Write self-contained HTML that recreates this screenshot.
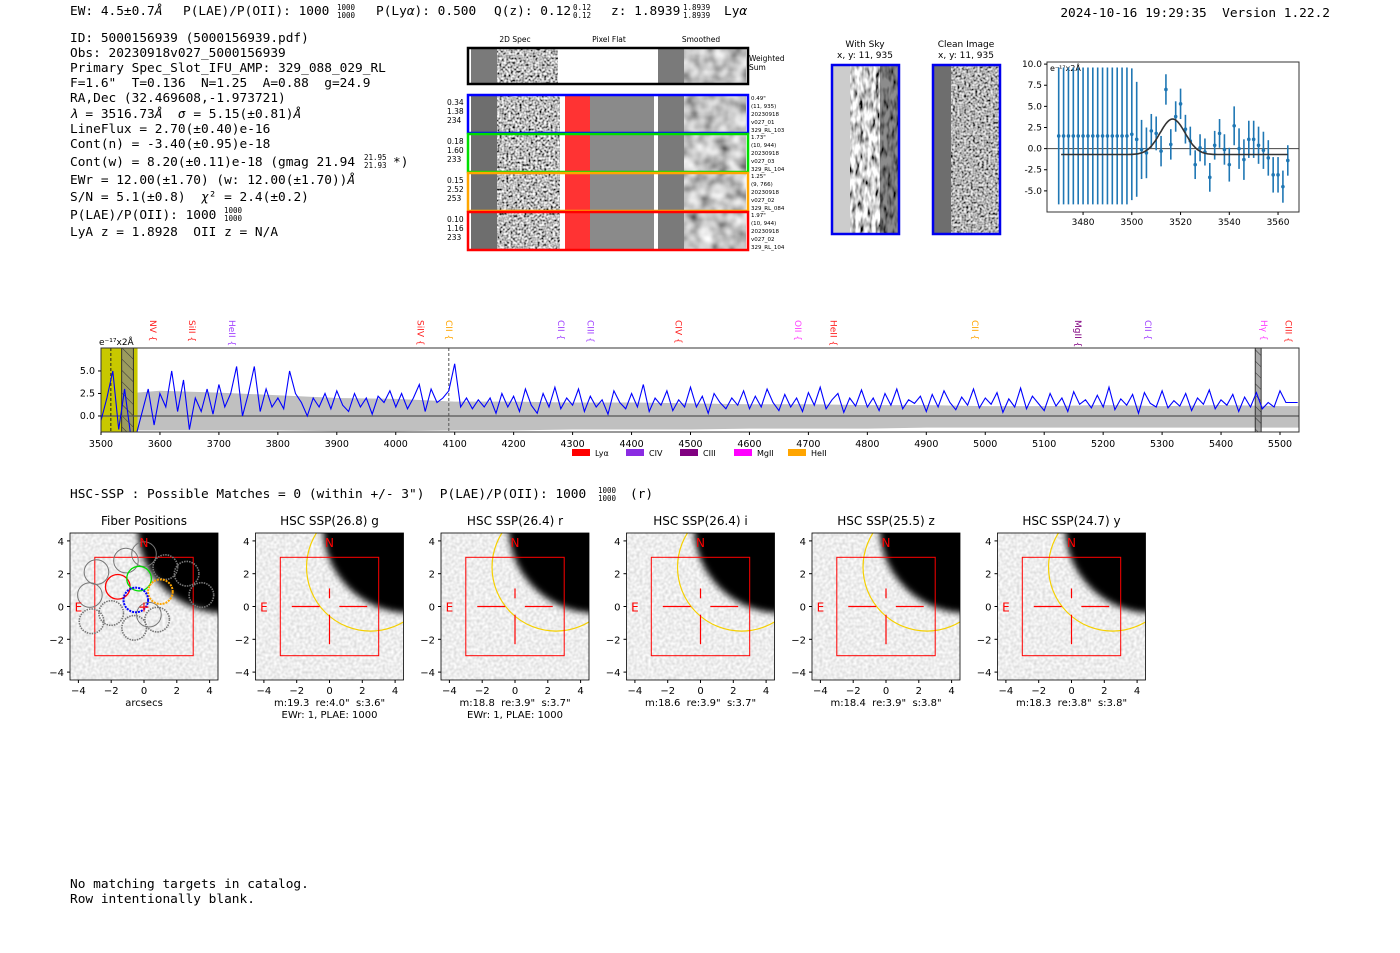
<!DOCTYPE html>
<html><head><meta charset="utf-8">
<style>
html,body{margin:0;padding:0;background:#fff;}
svg{display:block;}
text{white-space:pre;}
.mono{font-family:"DejaVu Sans Mono","Liberation Mono",monospace;font-size:12.8px;fill:#000;}
.sans{font-family:"DejaVu Sans","Liberation Sans",sans-serif;fill:#000;}
.frac{font-family:"DejaVu Sans Mono","Liberation Mono",monospace;font-size:7.5px;fill:#000;}
</style></head>
<body>
<svg id="root" width="1400" height="953" viewBox="0 0 1400 953" xmlns="http://www.w3.org/2000/svg" xml:space="preserve">
<defs>
<filter id="nzHi" x="0" y="0" width="100%" height="100%"><feTurbulence type="fractalNoise" baseFrequency="0.45" numOctaves="1" seed="4"/><feColorMatrix type="matrix" values="2.2 0 0 0 -0.6  2.2 0 0 0 -0.6  2.2 0 0 0 -0.6  0 0 0 0 1"/></filter>
<filter id="nzSm" x="0" y="0" width="100%" height="100%"><feTurbulence type="fractalNoise" baseFrequency="0.07" numOctaves="2" seed="7"/><feColorMatrix type="matrix" values="1.3 0 0 0 -0.1  1.3 0 0 0 -0.1  1.3 0 0 0 -0.1  0 0 0 0 1"/></filter>
<filter id="nzSky" x="0" y="0" width="100%" height="100%"><feTurbulence type="fractalNoise" baseFrequency="0.25 0.09" numOctaves="2" seed="2"/><feColorMatrix type="matrix" values="2.4 0 0 0 -0.55  2.4 0 0 0 -0.55  2.4 0 0 0 -0.55  0 0 0 0 1"/></filter>
<filter id="nzImg" x="0" y="0" width="100%" height="100%"><feTurbulence type="fractalNoise" baseFrequency="0.35" numOctaves="1" seed="9"/><feColorMatrix type="matrix" values="0.5 0 0 0 0.6  0.5 0 0 0 0.6  0.5 0 0 0 0.6  0 0 0 0 1"/></filter>
<filter id="blur6"><feGaussianBlur stdDeviation="3.5"/></filter>
<pattern id="hatch" width="8" height="8" patternUnits="userSpaceOnUse" patternTransform="rotate(-45)"><rect width="8" height="8" fill="#888" opacity="0.7"/><line x1="0" y1="0" x2="0" y2="8" stroke="#333" stroke-width="1"/></pattern>
</defs>

<g>
<text class="mono" x="70" y="15">EW: 4.5±0.7<tspan font-style="italic">Å</tspan></text>
<text class="mono" x="183" y="15">P(LAE)/P(OII): 1000</text>
<text class="frac" x="337" y="10">1000</text><text class="frac" x="337" y="18">1000</text>
<text class="mono" x="376" y="15">P(Ly<tspan font-style="italic">α</tspan>): 0.500</text>
<text class="mono" x="494" y="15">Q(z): 0.12</text>
<text class="frac" x="573" y="10">0.12</text><text class="frac" x="573" y="18">0.12</text>
<text class="mono" x="611" y="15">z: 1.8939</text>
<text class="frac" x="683" y="10">1.8939</text><text class="frac" x="683" y="18">1.8939</text>
<text class="mono" x="724" y="15">Ly<tspan font-style="italic">α</tspan></text>
</g>
<text class="mono" x="1330" y="17" text-anchor="end">2024-10-16 19:29:35  Version 1.22.2</text>

<g>
<text class="mono" x="70" y="42">ID: 5000156939 (5000156939.pdf)</text>
<text class="mono" x="70" y="57">Obs: 20230918v027_5000156939</text>
<text class="mono" x="70" y="72">Primary Spec_Slot_IFU_AMP: 329_088_029_RL</text>
<text class="mono" x="70" y="87">F=1.6"  T=0.136  N=1.25  A=0.88  g=24.9</text>
<text class="mono" x="70" y="102">RA,Dec (32.469608,-1.973721)</text>
<text class="mono" x="70" y="118"><tspan font-style="italic">λ</tspan> = 3516.73<tspan font-style="italic">Å</tspan>  <tspan font-style="italic">σ</tspan> = 5.15(±0.81)<tspan font-style="italic">Å</tspan></text>
<text class="mono" x="70" y="133">LineFlux = 2.70(±0.40)e-16</text>
<text class="mono" x="70" y="148">Cont(n) = -3.40(±0.95)e-18</text>
<text class="mono" x="70" y="166">Cont(w) = 8.20(±0.11)e-18 (gmag 21.94</text>
<text class="frac" x="364" y="160">21.95</text><text class="frac" x="364" y="168">21.93</text>
<text class="mono" x="393" y="166">*)</text>
<text class="mono" x="70" y="184">EWr = 12.00(±1.70) (w: 12.00(±1.70))<tspan font-style="italic">Å</tspan></text>
<text class="mono" x="70" y="201">S/N = 5.1(±0.8)  <tspan font-style="italic">χ</tspan>² = 2.4(±0.2)</text>
<text class="mono" x="70" y="219">P(LAE)/P(OII): 1000</text>
<text class="frac" x="224" y="213">1000</text><text class="frac" x="224" y="221">1000</text>
<text class="mono" x="70" y="236">LyA z = 1.8928  OII z = N/A</text>
</g>

<g id="spec2d" font-family="DejaVu Sans, Liberation Sans, sans-serif">
<text x="515" y="42" font-size="7.5" text-anchor="middle">2D Spec</text>
<text x="609" y="42" font-size="7.5" text-anchor="middle">Pixel Flat</text>
<text x="701" y="42" font-size="7.5" text-anchor="middle">Smoothed</text>
<text x="749" y="61" font-size="7.5">Weighted</text><text x="749" y="70" font-size="7.5">Sum</text>
</g>

<g>
<text class="sans" x="865" y="47" font-size="9" text-anchor="middle">With Sky</text>
<text class="sans" x="865" y="58" font-size="9" text-anchor="middle">x, y: 11, 935</text>
<rect x="832" y="65" width="67" height="169" fill="#ccc"/>
<rect x="850" y="65" width="49" height="169" filter="url(#nzSky)"/>
<rect x="880" y="65" width="19" height="169" fill="#000" opacity="0.45"/>
<rect x="832" y="65" width="67" height="169" fill="none" stroke="#0000ee" stroke-width="2.5"/>
</g>
<g>
<text class="sans" x="966" y="47" font-size="9" text-anchor="middle">Clean Image</text>
<text class="sans" x="966" y="58" font-size="9" text-anchor="middle">x, y: 11, 935</text>
<rect x="933" y="65" width="67" height="169" fill="#6e6e6e"/>
<rect x="951" y="65" width="49" height="169" filter="url(#nzHi)" opacity="0.9"/>
<rect x="933" y="65" width="67" height="169" fill="none" stroke="#0000ee" stroke-width="2.5"/>
</g>

<g id="zoomplot"></g>
<g id="spectrum"></g>

<text class="mono" x="70" y="498">HSC-SSP : Possible Matches = 0 (within +/- 3")  P(LAE)/P(OII): 1000</text>
<text class="frac" x="598" y="493">1000</text><text class="frac" x="598" y="501">1000</text>
<text class="mono" x="630" y="498">(r)</text>

<g id="panels"></g>

<text class="mono" x="70" y="888">No matching targets in catalog.</text>
<text class="mono" x="70" y="903">Row intentionally blank.</text>
</svg>

<script>
const fitWave = [3470,3472,3474,3476,3478,3480,3482,3484,3486,3488,3490,3492,3494,3496,3498,3500,3502,3504,3506,3508,3510,3512,3514,3516,3518,3520,3522,3524,3526,3528,3530,3532,3534,3536,3538,3540,3542,3544,3546,3548,3550,3552,3554,3556,3558,3560,3562,3564];
const fitFlux = [1.5,1.5,1.5,1.5,1.5,1.5,1.5,1.5,1.5,1.5,1.5,1.5,1.5,1.5,1.5,1.7,1.1,-0.1,-0.5,2.1,1.8,-0.3,7.0,0.5,3.8,5.3,2.3,0.9,-1.9,0.1,-0.4,-3.4,0.4,1.8,-0.1,-1.9,2.7,0.0,-1.3,1.1,1.1,0.4,-0.2,-1.1,-3.1,-3.1,-4.5,-1.4];
const fitErr = [8.1,8.1,8.1,8.1,8.1,8.1,8.1,8.1,8.1,8.1,8.1,8.1,8.1,8.1,8.1,7.8,6.8,3.5,3.0,2.0,2.0,1.8,1.8,1.8,1.8,1.8,1.7,1.7,1.7,1.6,1.6,1.7,1.7,1.7,1.8,2.0,2.3,2.4,2.4,2.2,2.2,2.2,2.2,2.1,2.1,2.1,1.9,1.8];
const fitParams = [3516.73, 5.15, 4.2, -0.7];
const fitXTicks = [3480,3500,3520,3540,3560];
const fitYTicks = [-5.0,-2.5,0.0,2.5,5.0,7.5,10.0];

const specStart = 3500, specStep = 10;
const specFlux = [
-0.5,2.0,5.0,-1.5,3.0,-2.0,-2.0,0.5,3.0,-1.0,
2.5,1.0,5.0,0.5,4.0,-1.5,2.0,0.5,3.0,0.2,
3.5,1.0,2.5,5.5,0.0,2.5,5.5,0.5,3.0,1.0,
2.0,0.8,5.0,2.5,1.5,0.0,2.0,1.0,2.5,0.8,
2.8,1.2,0.5,2.5,1.0,2.0,0.2,2.2,1.5,2.8,
1.0,2.5,0.8,2.0,3.5,0.5,3.0,1.5,2.0,2.8,
5.8,1.0,2.0,0.8,1.8,1.0,2.0,0.3,2.5,1.0,
2.2,0.5,3.0,1.2,0.3,2.5,1.0,3.2,0.8,2.0,
1.2,3.0,0.5,2.2,1.0,1.8,0.2,2.8,1.5,0.8,
2.5,1.0,3.5,0.5,2.0,1.2,2.8,0.6,1.8,1.0,
3.2,1.0,2.2,0.3,2.5,1.5,0.8,2.0,1.2,2.8,
0.8,2.2,1.0,3.0,1.5,0.6,2.4,1.0,2.0,0.5,
2.6,1.2,3.2,0.8,1.8,2.5,0.4,2.0,1.1,2.9,
1.0,2.0,0.6,2.5,1.2,3.0,0.8,1.8,1.4,2.2,
0.5,2.4,1.0,2.8,1.5,0.7,2.1,1.2,3.0,0.9,
2.0,1.3,2.6,0.4,1.9,1.0,3.1,0.8,2.2,1.4,
0.6,2.5,1.1,2.0,0.5,2.7,1.3,1.8,0.9,2.3,
1.0,3.2,0.7,1.9,1.2,2.4,0.3,2.6,1.4,1.0,
2.8,0.9,1.7,1.1,2.5,0.6,2.0,1.3,2.9,0.8,
1.8,1.2,2.4,0.5,2.1,1.0,2.6,0.8,1.5,1.0,
2.8,1.5,1.5,1.5];
const bandWave = [3560,3600,3700,3800,3900,4000,4100,4200,4300,4400,4500,4600,4700,4800,4900,5000,5100,5200,5300,5400,5500];
const bandHi = [2.6,2.8,2.6,2.3,2.0,1.9,1.6,1.6,1.5,1.5,1.4,1.3,1.3,1.2,1.2,1.1,1.1,1.2,1.1,1.2,1.1];
const bandLo = [-1.6,-1.6,-1.6,-1.6,-1.7,-1.7,-1.6,-1.6,-1.5,-1.5,-1.5,-1.4,-1.4,-1.4,-1.3,-1.3,-1.3,-1.3,-1.3,-1.3,-1.3];
const specXTicks = [3500,3600,3700,3800,3900,4000,4100,4200,4300,4400,4500,4600,4700,4800,4900,5000,5100,5200,5300,5400,5500];
const specYTicks = [0.0,2.5,5.0];
const lineNames = ["NV","SiII","HeII","SiIV","CII","CII","CIII","CIV","OII","HeII","CII","MgII","CII","Hγ","CIII"];
const lineWaves = [3588,3654,3722,4042,4090,4280,4330,4480,4682,4743,4983,5157,5276,5473,5514];
const lineColors = ["#ff2020","#ff2020","#a040ff","#ff2020","#ffa500","#a040ff","#a040ff","#ff2020","#ff40ff","#ff2020","#ffa500","#800080","#a040ff","#ff40ff","#ff2020"];
const legendNames = ["Lyα","CIV","CIII","MgII","HeII"];
const legendColors = ["#ff0000","#8a2be2","#800080","#ff00ff","#ffa500"];

const panelTitles = ["Fiber Positions","HSC SSP(26.8) g","HSC SSP(26.4) r","HSC SSP(26.4) i","HSC SSP(25.5) z","HSC SSP(24.7) y"];
const panelCap1 = ["arcsecs",'m:19.3  re:4.0"  s:3.6"','m:18.8  re:3.9"  s:3.7"','m:18.6  re:3.9"  s:3.7"','m:18.4  re:3.9"  s:3.8"','m:18.3  re:3.8"  s:3.8"'];
const panelCap2 = ["","EWr: 1, PLAE: 1000","EWr: 1, PLAE: 1000","","",""];
const fiberX = [-2.9,-1.1,0.0,1.3,2.6,3.5,-3.3,-2.0,-3.2,0.3,-0.6,0.8];
const fiberY = [2.1,2.8,3.2,2.4,2.0,0.7,0.7,-0.4,-0.9,-0.5,-1.3,-0.8];
const fiberDash = [0,0,0,1,1,1,0,1,1,0,1,1];
const selX = [-1.6,-0.3,1.0,-0.5];
const selY = [1.2,1.7,0.9,0.4];
const selColor = ["#ff0000","#00dd00","#ffa500","#0000ff"];
const spec2dRows = ["0.34|1.38|234","0.18|1.60|233","0.15|2.52|253","0.10|1.16|233"];
const spec2dInfo = [["0.49\"","(11, 935)","20230918","v027_01","329_RL_103"],["1.73\"","(10, 944)","20230918","v027_03","329_RL_104"],["1.25\"","(9, 766)","20230918","v027_02","329_RL_084"],["1.97\"","(10, 944)","20230918","v027_02","329_RL_104"]];
const spec2dColors = ["#0000ff","#00dd00","#ffa500","#ff0000"];

const NS = "http://www.w3.org/2000/svg";
function mk(tag, attrs, parent){const e=document.createElementNS(NS,tag);for(const k in attrs)e.setAttribute(k,attrs[k]);parent.appendChild(e);return e;}
function txt(s, attrs, parent){const e=mk("text",attrs,parent);e.textContent=s;return e;}
const SANS = "DejaVu Sans, Liberation Sans, sans-serif";

(function(){
 const g=document.getElementById("spec2d");
 const ws=mk("g",{},g);
 
 
 mk("rect",{x:468,y:48,width:280,height:36,fill:"#fff"},ws);
 mk("rect",{x:471,y:48,width:26,height:36,fill:"#7a7a7a"},ws);
 mk("rect",{x:497,y:48,width:61,height:36,filter:"url(#nzHi)"},ws);
 mk("rect",{x:658,y:48,width:26,height:36,fill:"#7a7a7a"},ws);
 mk("rect",{x:684,y:48,width:62,height:36,filter:"url(#nzSm)"},ws);
 mk("rect",{x:468,y:48,width:280,height:36,fill:"none",stroke:"#000","stroke-width":2.5},ws);
 const ys=[95,134,173,212], h=38;
 for(let i=0;i<4;i++){
  const y=ys[i];
  const r=mk("g",{},g);
  
  
  mk("rect",{x:468,y:y,width:280,height:h,fill:"#fff"},r);
  mk("rect",{x:471,y:y,width:26,height:h,fill:"#6e6e6e"},r);
  mk("rect",{x:497,y:y,width:63,height:h,filter:"url(#nzHi)"},r);
  mk("rect",{x:565,y:y,width:25,height:h,fill:"#ff3333"},r);
  mk("rect",{x:590,y:y,width:64,height:h,fill:"#8a8a8a"},r);
  mk("rect",{x:658,y:y,width:26,height:h,fill:"#7a7a7a"},r);
  mk("rect",{x:684,y:y,width:62,height:h,filter:"url(#nzSm)"},r);
  mk("rect",{x:468,y:y,width:280,height:h,fill:"none",stroke:spec2dColors[i],"stroke-width":2.5},r);
  const v=spec2dRows[i].split("|");
  for(let k=0;k<3;k++) txt(v[k],{x:447,y:y+10+k*9,"font-size":7.5,"font-family":SANS},r);
  for(let k=0;k<5;k++) txt(spec2dInfo[i][k],{x:751,y:y+5+k*8,"font-size":5.5,"font-family":SANS},r);
 }
})();

(function(){
 const g=document.getElementById("zoomplot");
 const L=1047,R=1299,T=62,B=212, x0=3465.2,x1=3568.6, y0=-7.5,y1=10.25;
 const X=v=>L+(v-x0)/(x1-x0)*(R-L), Y=v=>B-(v-y0)/(y1-y0)*(B-T);
 mk("rect",{x:L,y:T,width:R-L,height:B-T,fill:"#fff",stroke:"#333","stroke-width":1},g);
 const zl=mk("line",{x1:L,x2:R,y1:Y(0),y2:Y(0),stroke:"#444","stroke-width":1},g);
 
 
 for(const t of fitXTicks){mk("line",{x1:X(t),x2:X(t),y1:B,y2:B+3,stroke:"#000"},g);txt(String(t),{x:X(t),y:B+13,"font-size":9,"text-anchor":"middle","font-family":SANS},g);}
 for(const t of fitYTicks){mk("line",{x1:L-3,x2:L,y1:Y(t),y2:Y(t),stroke:"#000"},g);txt(t.toFixed(1),{x:L-5,y:Y(t)+3,"font-size":9,"text-anchor":"end","font-family":SANS},g);}
 txt("e⁻¹⁷x2Å",{x:L+3,y:T+9,"font-size":8,"font-family":SANS},g);
 for(let i=0;i<fitWave.length;i++){
  const x=X(fitWave[i]);
  const eb=mk("line",{x1:x,x2:x,y1:Y(Math.min(fitFlux[i]+fitErr[i],y1-0.1)),y2:Y(fitFlux[i]-fitErr[i]),stroke:"#1f77b4","stroke-width":1.6},g);
  
  
  const p=mk("circle",{cx:x,cy:Y(fitFlux[i]),r:1.8,fill:"#1f77b4"},g);
  
  
 }
 let d="";
 for(let w=3471;w<=3564;w+=0.5){const f=fitParams[3]+fitParams[2]*Math.exp(-0.5*Math.pow((w-fitParams[0])/fitParams[1],2));d+=(d?"L":"M")+X(w).toFixed(1)+","+Y(f).toFixed(1);}
 const fl=mk("path",{d:d,fill:"none",stroke:"#333","stroke-width":1.6},g);
 
 
})();

(function(){
 const g=document.getElementById("spectrum");
 const L=101,R=1299,T=348,B=432, y0=-1.78,y1=7.55;
 const X=v=>L+(v-3500)/(5500-3500)*(1280-101), Y=v=>B-(v-y0)/(y1-y0)*(B-T);
 mk("rect",{x:L,y:T,width:R-L,height:B-T,fill:"#fff"},g);
 const clip=mk("clipPath",{id:"specClip"},g); mk("rect",{x:L,y:T,width:R-L,height:B-T},clip);
 const inner=mk("g",{"clip-path":"url(#specClip)"},g);
 let d="M"+X(bandWave[0])+","+Y(bandHi[0]);
 for(let i=1;i<bandWave.length;i++) d+="L"+X(bandWave[i])+","+Y(bandHi[i]);
 d+="L"+X(5532)+","+Y(bandHi[bandHi.length-1]);
 d+="L"+X(5532)+","+Y(bandLo[bandLo.length-1]);
 for(let i=bandWave.length-1;i>=0;i--) d+="L"+X(bandWave[i])+","+Y(bandLo[i]);
 const band=mk("path",{d:d+"Z",fill:"#c0c0c0"},inner);
 
 
 const yz=mk("rect",{x:X(3500),y:T,width:X(3562)-X(3500),height:B-T,fill:"#c8c800"},inner);
 
 
 mk("rect",{x:X(3535),y:T,width:X(3555)-X(3535),height:B-T,fill:"url(#hatch)",stroke:"#333"},inner);
 const sky=mk("rect",{x:X(5458),y:T,width:X(5468)-X(5458),height:B-T,fill:"url(#hatch)",stroke:"#333"},inner);
 
 
 mk("line",{x1:L,x2:R,y1:Y(0),y2:Y(0),stroke:"#555","stroke-width":1.2},inner);
 mk("line",{x1:X(3516.7),x2:X(3516.7),y1:T,y2:B,stroke:"#222","stroke-dasharray":"3,2"},inner);
 mk("line",{x1:X(4090),x2:X(4090),y1:T,y2:B,stroke:"#555","stroke-dasharray":"3,2"},inner);
 let p="";
 for(let i=0;i<specFlux.length;i++){p+=(p?"L":"M")+X(specStart+i*specStep).toFixed(1)+","+Y(specFlux[i]).toFixed(1);}
 const sl=mk("path",{d:p,fill:"none",stroke:"#0000ff","stroke-width":1.1},inner);
 
 
 mk("rect",{x:L,y:T,width:R-L,height:B-T,fill:"none",stroke:"#333"},g);
 for(const t of specXTicks){mk("line",{x1:X(t),x2:X(t),y1:B,y2:B+3,stroke:"#000"},g);txt(String(t),{x:X(t),y:B+15,"font-size":9.5,"text-anchor":"middle","font-family":SANS},g);}
 for(const t of specYTicks){mk("line",{x1:L-3,x2:L,y1:Y(t),y2:Y(t),stroke:"#000"},g);txt(t.toFixed(1),{x:L-6,y:Y(t)+3,"font-size":9.5,"text-anchor":"end","font-family":SANS},g);}
 txt("e⁻¹⁷x2Å",{x:L-2,y:T-3,"font-size":9,"font-family":SANS},g);
 for(let i=0;i<lineNames.length;i++){
  const x=X(lineWaves[i]);
  const lt=txt(lineNames[i]+" {",{x:0,y:0,"font-size":9,fill:lineColors[i],"font-family":SANS,transform:"translate("+(x-3)+",320) rotate(90)"},g);
  
  
 }
 let lx=572;
 for(let i=0;i<legendNames.length;i++){
  const e=mk("g",{},g);
  
  
  mk("rect",{x:lx,y:449,width:18,height:7,fill:legendColors[i]},e);
  txt(legendNames[i],{x:lx+23,y:456,"font-size":8,"font-family":SANS},e);
  lx+=54;
 }
})();

(function(){
 const g=document.getElementById("panels");
 for(let i=0;i<6;i++){
  const L=70+i*185.5, W=148, T=533, H=147, S=16.4;
  const cx=L+74, cy=T+73.5;
  const X=v=>cx+v*S, Y=v=>cy-v*S;
  const p=mk("g",{},g);
  
  
  const cid="pc"+i; const cp=mk("clipPath",{id:cid},p); mk("rect",{x:L,y:T,width:W,height:H},cp);
  const im=mk("g",{"clip-path":"url(#"+cid+")"},p);
  mk("rect",{x:L,y:T,width:W,height:H,filter:"url(#nzImg)"},im);
  mk("circle",{cx:X(4.9),cy:Y(4.9),r:5.3*S,fill:"#000",filter:"url(#blur6)"},im);
  if(i>0){mk("circle",{cx:X(2.5),cy:Y(2.4),r:3.9*S,fill:"none",stroke:"#f5d000","stroke-width":1.2},im);}
  mk("rect",{x:X(-3),y:Y(3),width:6*S,height:6*S,fill:"none",stroke:"#ff0000","stroke-width":1},im);
  if(i>0){
   mk("line",{x1:X(-2.3),x2:X(-0.6),y1:Y(0),y2:Y(0),stroke:"#f00","stroke-width":1.2},im);
   mk("line",{x1:X(0.6),x2:X(2.3),y1:Y(0),y2:Y(0),stroke:"#f00","stroke-width":1.2},im);
   mk("line",{x1:X(0),x2:X(0),y1:Y(1.1),y2:Y(0.5),stroke:"#f00","stroke-width":1.2},im);
   mk("line",{x1:X(0),x2:X(0),y1:Y(-0.5),y2:Y(-2.3),stroke:"#f00","stroke-width":1.2},im);
  } else {
   for(let k=0;k<fiberX.length;k++){
    const c=mk("circle",{cx:X(fiberX[k]),cy:Y(fiberY[k]),r:0.75*S,fill:"none",stroke:"#777","stroke-width":fiberDash[k]?1.6:1,"stroke-dasharray":fiberDash[k]?"1.5,1":"none"},im);
    
    
   }
   for(let k=0;k<selX.length;k++){
    const c=mk("circle",{cx:X(selX[k]),cy:Y(selY[k]),r:0.75*S,fill:"none",stroke:selColor[k],"stroke-width":k>=2?2:1.3,"stroke-dasharray":k>=2?"2,1":"none"},im);
    
    
   }
   txt("+",{x:X(0),y:Y(0)+5,"font-size":14,fill:"#f00","text-anchor":"middle","font-family":SANS},im);
  }
  txt("N",{x:X(0),y:Y(4)+6,"font-size":12,fill:"#f00","text-anchor":"middle","font-family":SANS},im);
  txt("E",{x:X(-4),y:Y(0)+5,"font-size":12,fill:"#f00","text-anchor":"middle","font-family":SANS},im);
  mk("rect",{x:L,y:T,width:W,height:H,fill:"none",stroke:"#000","stroke-width":0.8},p);
  const tt=txt(panelTitles[i],{x:cx,y:T-8,"font-size":12,"text-anchor":"middle","font-family":SANS},p);
  
  
  for(const t of [-4,-2,0,2,4]){
   mk("line",{x1:X(t),x2:X(t),y1:T+H,y2:T+H+3,stroke:"#000"},p);
   txt(t<0?"−"+(-t):String(t),{x:X(t),y:T+H+14,"font-size":10,"text-anchor":"middle","font-family":SANS},p);
   mk("line",{x1:L-3,x2:L,y1:Y(t),y2:Y(t),stroke:"#000"},p);
   txt(t<0?"−"+(-t):String(t),{x:L-6,y:Y(t)+4,"font-size":10,"text-anchor":"end","font-family":SANS},p);
  }
  txt(panelCap1[i],{x:cx,y:T+H+26,"font-size":10,"text-anchor":"middle","font-family":SANS},p);
  if(panelCap2[i]) txt(panelCap2[i],{x:cx,y:T+H+38,"font-size":10,"text-anchor":"middle","font-family":SANS},p);
 }
})();
</script>
</body></html>
